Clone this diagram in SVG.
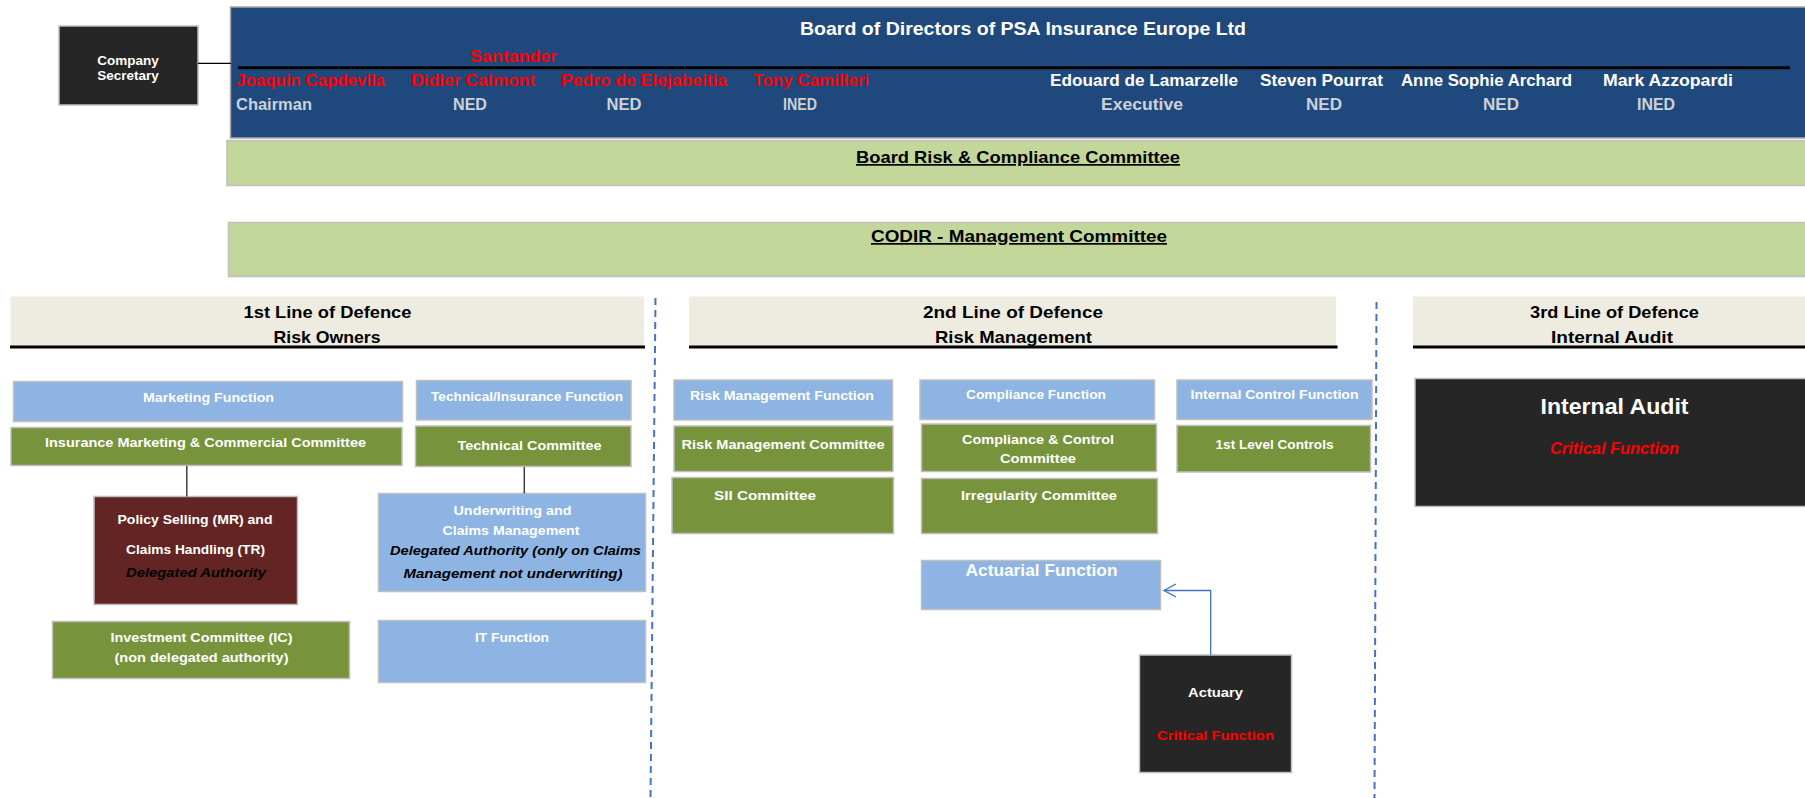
<svg xmlns="http://www.w3.org/2000/svg" width="1805" height="798" viewBox="0 0 1805 798">
<defs>
<style>
text{font-family:"Liberation Sans",Arial,sans-serif;font-weight:bold;text-anchor:middle}
.w{fill:#ffffff;font-size:13.5px}
.hd{fill:#000000;font-size:17px}
.nm{font-size:17px}
.red{fill:#ff0000}
.wh{fill:#ffffff}
.gr{fill:#cdd1d8}
.it{font-style:italic;fill:#000000;font-size:13.5px}
.blue{fill:#8db4e2;stroke:#bfbfbf;stroke-width:1.5}
.green{fill:#77933c;stroke:#bfbfbf;stroke-width:1.5}
.dark{fill:#262626;stroke:#bfbfbf;stroke-width:1.5}
.maroon{fill:#632523;stroke:#bfbfbf;stroke-width:1.5}
.head{fill:#eeece1}
.lgreen{fill:#c4d79b;stroke:#bfbfbf;stroke-width:1.5}
.hline{stroke:#000000;stroke-width:3}
.conn{stroke:#404040;stroke-width:1.5;fill:none}
.dash{stroke:#4472c4;stroke-width:2;stroke-dasharray:7 5;fill:none}
</style>
<marker id="open" markerWidth="14" markerHeight="16" refX="12" refY="7" orient="auto" markerUnits="userSpaceOnUse">
<path d="M0,0.5 L12,7 L0,13.5" fill="none" stroke="#4472c4" stroke-width="1.3"/>
</marker>
</defs>

<g id="board">
<rect x="230.5" y="7" width="1600" height="131" fill="#1f497d" stroke="#a6a6a6" stroke-width="1.5"/>
<text class="wh" x="1023" y="35" font-size="19" textLength="446" lengthAdjust="spacingAndGlyphs">Board of Directors of PSA Insurance Europe Ltd</text>
<line class="hline" x1="238" y1="67.7" x2="1790" y2="67.7"/>
<text class="nm red" x="513.5" y="61.5" textLength="87" lengthAdjust="spacingAndGlyphs">Santander</text>
<text class="nm red" x="310.5" y="86" textLength="149" lengthAdjust="spacingAndGlyphs">Joaquin Capdevila</text>
<text class="nm red" x="473" y="86" textLength="124" lengthAdjust="spacingAndGlyphs">Didier Calmont</text>
<text class="nm red" x="644" y="86" textLength="166" lengthAdjust="spacingAndGlyphs">Pedro de Elejabeitia</text>
<text class="nm red" x="811" y="86" textLength="116" lengthAdjust="spacingAndGlyphs">Tony Camilleri</text>
<text class="nm wh" x="1144" y="86" textLength="188" lengthAdjust="spacingAndGlyphs">Edouard de Lamarzelle</text>
<text class="nm wh" x="1321.5" y="86" textLength="123" lengthAdjust="spacingAndGlyphs">Steven Pourrat</text>
<text class="nm wh" x="1486.5" y="86" textLength="171" lengthAdjust="spacingAndGlyphs">Anne Sophie Archard</text>
<text class="nm wh" x="1668" y="86" textLength="130" lengthAdjust="spacingAndGlyphs">Mark Azzopardi</text>
<text class="nm gr" x="274" y="110" textLength="76" lengthAdjust="spacingAndGlyphs">Chairman</text>
<text class="nm gr" x="470" y="110" textLength="34" lengthAdjust="spacingAndGlyphs">NED</text>
<text class="nm gr" x="624" y="110" textLength="35" lengthAdjust="spacingAndGlyphs">NED</text>
<text class="nm gr" x="800" y="110" textLength="34" lengthAdjust="spacingAndGlyphs">INED</text>
<text class="nm gr" x="1142" y="110" textLength="82" lengthAdjust="spacingAndGlyphs">Executive</text>
<text class="nm gr" x="1324" y="110" textLength="36" lengthAdjust="spacingAndGlyphs">NED</text>
<text class="nm gr" x="1501" y="110" textLength="36" lengthAdjust="spacingAndGlyphs">NED</text>
<text class="nm gr" x="1656" y="110" textLength="38" lengthAdjust="spacingAndGlyphs">INED</text>
</g>

<g id="company-secretary">
<rect class="dark" x="59" y="26" width="139" height="79"/>
<text class="w" x="128" y="65">Company</text>
<text class="w" x="128" y="79.5">Secretary</text>
</g>

<g id="board-risk">
<rect class="lgreen" x="227" y="140.5" width="1600" height="45"/>
<text class="hd" x="1018" y="163" text-decoration="underline" textLength="324" lengthAdjust="spacingAndGlyphs">Board Risk &amp; Compliance Committee</text>
</g>

<g id="codir">
<rect class="lgreen" x="228.5" y="222.5" width="1600" height="54"/>
<text class="hd" x="1019" y="242" text-decoration="underline" textLength="296" lengthAdjust="spacingAndGlyphs">CODIR - Management Committee</text>
</g>

<g id="line1-header">
<rect class="head" x="10.5" y="296.5" width="633.5" height="50"/>
<line class="hline" x1="10" y1="347" x2="645" y2="347"/>
<text class="hd" x="327.5" y="318" textLength="168" lengthAdjust="spacingAndGlyphs">1st Line of Defence</text>
<text class="hd" x="327" y="342.5" textLength="107" lengthAdjust="spacingAndGlyphs">Risk Owners</text>
</g>

<g id="line2-header">
<rect class="head" x="689" y="296.5" width="647" height="50"/>
<line class="hline" x1="689" y1="347" x2="1337.5" y2="347"/>
<text class="hd" x="1013" y="318" textLength="180" lengthAdjust="spacingAndGlyphs">2nd  Line of Defence</text>
<text class="hd" x="1013.5" y="342.5" textLength="157" lengthAdjust="spacingAndGlyphs">Risk Management</text>
</g>

<g id="line3-header">
<rect class="head" x="1413" y="296.5" width="400" height="50"/>
<line class="hline" x1="1413" y1="347" x2="1805" y2="347"/>
<text class="hd" x="1614.5" y="318" textLength="169" lengthAdjust="spacingAndGlyphs">3rd Line of Defence</text>
<text class="hd" x="1612" y="342.5" textLength="122" lengthAdjust="spacingAndGlyphs">Internal Audit</text>
</g>

<g id="marketing-function">
<rect class="blue" x="13.5" y="381.5" width="389" height="40"/>
<text class="w" x="208.5" y="401.5" textLength="131" lengthAdjust="spacingAndGlyphs">Marketing Function</text>
</g>
<g id="insurance-marketing-committee">
<rect class="green" x="11" y="427.5" width="391" height="38"/>
<text class="w" x="205.5" y="446.5" textLength="321" lengthAdjust="spacingAndGlyphs">Insurance  Marketing &amp; Commercial Committee</text>
</g>
<g id="technical-function">
<rect class="blue" x="416.5" y="380.5" width="214.5" height="39.5"/>
<text class="w" x="527" y="401" textLength="192" lengthAdjust="spacingAndGlyphs">Technical/Insurance  Function</text>
</g>
<g id="technical-committee">
<rect class="green" x="415.5" y="426" width="215.5" height="40.5"/>
<text class="w" x="529.5" y="449.5" textLength="144" lengthAdjust="spacingAndGlyphs">Technical  Committee</text>
</g>
<g id="policy-selling">
<rect class="maroon" x="94" y="496.5" width="203.5" height="108"/>
<text class="w" x="195" y="524" textLength="155" lengthAdjust="spacingAndGlyphs">Policy  Selling  (MR)  and</text>
<text class="w" x="195.5" y="553.5" textLength="139" lengthAdjust="spacingAndGlyphs">Claims Handling  (TR)</text>
<text class="it" x="196" y="576.5" textLength="140" lengthAdjust="spacingAndGlyphs">Delegated  Authority</text>
</g>
<g id="underwriting">
<rect class="blue" x="378.5" y="493.5" width="267" height="98"/>
<text class="w" x="512.5" y="515" textLength="118" lengthAdjust="spacingAndGlyphs">Underwriting and</text>
<text class="w" x="511" y="535" textLength="137" lengthAdjust="spacingAndGlyphs">Claims Management</text>
<text class="it" x="515.5" y="555" textLength="251" lengthAdjust="spacingAndGlyphs">Delegated  Authority (only on Claims</text>
<text class="it" x="513" y="577.5" textLength="219" lengthAdjust="spacingAndGlyphs">Management  not underwriting)</text>
</g>
<g id="investment-committee">
<rect class="green" x="52.5" y="621.5" width="297" height="57"/>
<text class="w" x="201.5" y="641.5" textLength="182" lengthAdjust="spacingAndGlyphs">Investment Committee (IC)</text>
<text class="w" x="201.5" y="661.5" textLength="174" lengthAdjust="spacingAndGlyphs">(non delegated authority)</text>
</g>
<g id="it-function">
<rect class="blue" x="378.5" y="620.5" width="267" height="62"/>
<text class="w" x="512" y="641.5" textLength="74" lengthAdjust="spacingAndGlyphs">IT Function</text>
</g>

<g id="risk-management-function">
<rect class="blue" x="674" y="380" width="218.5" height="40"/>
<text class="w" x="782" y="400" textLength="184" lengthAdjust="spacingAndGlyphs">Risk Management Function</text>
</g>
<g id="risk-management-committee">
<rect class="green" x="674" y="426" width="219" height="45.5"/>
<text class="w" x="783" y="449" textLength="203" lengthAdjust="spacingAndGlyphs">Risk Management Committee</text>
</g>
<g id="sii-committee">
<rect class="green" x="672" y="477.5" width="221.5" height="56"/>
<text class="w" x="765" y="500" textLength="102" lengthAdjust="spacingAndGlyphs">SII Committee</text>
</g>
<g id="compliance-function">
<rect class="blue" x="920" y="380" width="234.5" height="39.5"/>
<text class="w" x="1036" y="399" textLength="140" lengthAdjust="spacingAndGlyphs">Compliance  Function</text>
</g>
<g id="compliance-control-committee">
<rect class="green" x="921.5" y="424" width="235" height="47.5"/>
<text class="w" x="1038" y="443.5" textLength="152" lengthAdjust="spacingAndGlyphs">Compliance  &amp;  Control</text>
<text class="w" x="1038" y="462.5" textLength="76" lengthAdjust="spacingAndGlyphs">Committee</text>
</g>
<g id="irregularity-committee">
<rect class="green" x="921.5" y="478.5" width="236" height="55"/>
<text class="w" x="1039" y="500" textLength="156" lengthAdjust="spacingAndGlyphs">Irregularity Committee</text>
</g>
<g id="internal-control-function">
<rect class="blue" x="1177" y="380" width="195" height="39.5"/>
<text class="w" x="1274.5" y="399" textLength="168" lengthAdjust="spacingAndGlyphs">Internal Control Function</text>
</g>
<g id="first-level-controls">
<rect class="green" x="1177" y="425.5" width="193.5" height="46.5"/>
<text class="w" x="1274.5" y="448.5" textLength="118" lengthAdjust="spacingAndGlyphs">1st Level Controls</text>
</g>
<g id="actuarial-function">
<rect class="blue" x="921.5" y="560.5" width="239" height="49"/>
<text class="wh" x="1041.5" y="576" font-size="17" textLength="152" lengthAdjust="spacingAndGlyphs">Actuarial Function</text>
</g>
<g id="actuary">
<rect class="dark" x="1139.5" y="655" width="152" height="117.5"/>
<text class="w" x="1215.5" y="696.5" textLength="55" lengthAdjust="spacingAndGlyphs">Actuary</text>
<text class="w red" x="1215.5" y="740" textLength="117" lengthAdjust="spacingAndGlyphs">Critical Function</text>
</g>
<g id="internal-audit">
<rect class="dark" x="1415" y="378.5" width="400" height="128"/>
<text class="wh" x="1614.5" y="413.5" font-size="22" textLength="148" lengthAdjust="spacingAndGlyphs">Internal  Audit</text>
<text class="red" x="1614.5" y="454" font-size="16" font-style="italic" textLength="129" lengthAdjust="spacingAndGlyphs">Critical Function</text>
</g>

<g id="connectors">
<line x1="198" y1="63.3" x2="231" y2="63.3" stroke="#000000" stroke-width="1.3"/>
<line class="conn" x1="186.8" y1="466" x2="186.8" y2="496.5"/>
<line class="conn" x1="524.3" y1="467" x2="524.3" y2="493.5"/>
<path d="M1210.7,655 V590.5 H1164" fill="none" stroke="#4472c4" stroke-width="1.3" marker-end="url(#open)"/>
<line class="dash" x1="655.5" y1="298" x2="650.5" y2="798"/>
<line class="dash" x1="1376.5" y1="302" x2="1374.5" y2="798"/>
</g>
</svg>
